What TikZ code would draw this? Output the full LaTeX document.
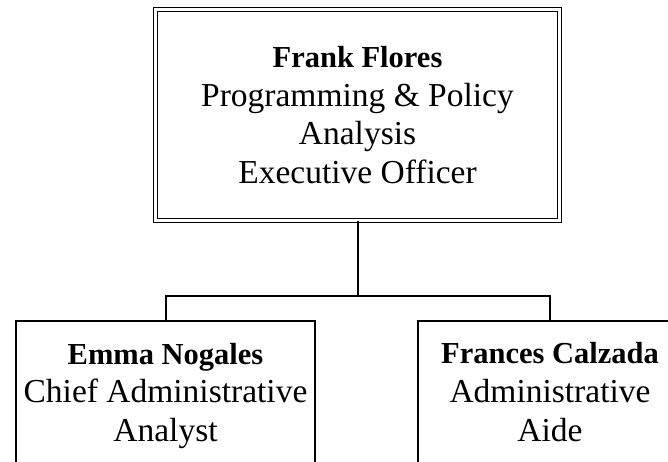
\documentclass[tikz,border=0pt]{standalone}
\usepackage{fontspec}
\setmainfont{Liberation Serif}
\newcommand{\nmfont}{\fontsize{30.5}{38.6}\selectfont\bfseries}
\begin{document}
\begin{tikzpicture}[x=1pt,y=-1pt,
  box/.style={draw, line width=2pt, inner sep=0pt, align=center,
    font=\fontsize{33.5}{38.6}\selectfont},
  link/.style={line width=2pt}]
\useasboundingbox (0,0) rectangle (668,461);
\node[box, double, line width=1.6pt, double distance=2.6pt,
  minimum width=404pt, minimum height=211pt] (ff) at (357.5,115)
  {{\nmfont Frank Flores}\\Programming \& Policy\\Analysis\\Executive Officer};
\node[box, minimum width=299pt, minimum height=150pt, anchor=north] (en) at (165.5,320)
  {{\nmfont Emma Nogales}\\Chief Administrative\\Analyst};
\node[box, minimum width=264pt, minimum height=142pt, anchor=north] (fc) at (550,320)
  {{\nmfont Frances Calzada}\\Administrative\\Aide};
\coordinate (bus) at (0,296);
\draw[link] (ff.south) -- (ff.south |- bus);
\draw[link] (en.north) -- (en.north |- bus) -- (fc.north |- bus) -- (fc.north);
\end{tikzpicture}
\end{document}
